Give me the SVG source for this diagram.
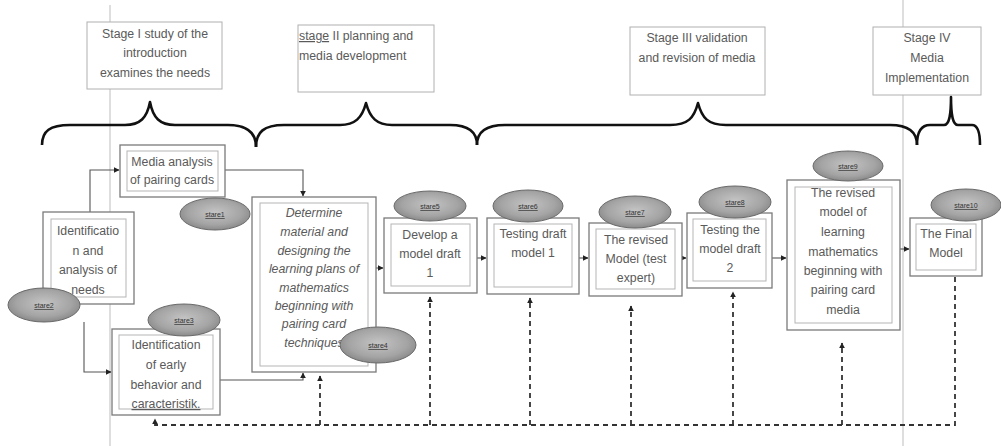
<svg xmlns="http://www.w3.org/2000/svg" width="1001" height="446" viewBox="0 0 1001 446">
<style>
.bg{fill:#fff}
.guide{stroke:#c8c8c8;stroke-width:1.2;fill:none}
.stage{fill:#fff;stroke:#b0b0b0;stroke-width:1}
.brace{fill:none;stroke:#111;stroke-width:2.6;stroke-linejoin:round}
.outer{fill:#fff;stroke:#7a7a7a;stroke-width:1.3}
.inner{fill:none;stroke:#b5b5b5;stroke-width:1}
.t{font-family:"Liberation Sans",Arial,sans-serif;font-size:12.3px;fill:#5a5a5a;text-anchor:middle}
.ti{font-style:italic}
.tl{text-anchor:start}
.el{fill:url(#eg);stroke:#6a6a6a;stroke-width:1}
.et{font-family:"Liberation Sans",Arial,sans-serif;font-size:7px;fill:#333;text-anchor:middle;text-decoration:underline}
.c{fill:none;stroke:#555;stroke-width:1.1}
.d{fill:none;stroke:#333;stroke-width:1.8;stroke-dasharray:5,4}
</style>
<defs>
<radialGradient id="eg" cx="50%" cy="45%" r="55%">
<stop offset="0" stop-color="#c4c4c4"/>
<stop offset="0.7" stop-color="#a4a4a4"/>
<stop offset="1" stop-color="#8a8a8a"/>
</radialGradient>
<marker id="ah" viewBox="0 0 10 10" refX="9" refY="5" markerWidth="6" markerHeight="6" orient="auto" markerUnits="userSpaceOnUse">
<path d="M0,0 L10,5 L0,10 z" fill="#222"/>
</marker>
</defs>
<rect class="bg" x="0" y="0" width="1001" height="446"/>

<!-- guide lines -->
<line class="guide" x1="110" y1="5" x2="110" y2="446"/>
<line class="guide" x1="903" y1="0" x2="903" y2="446"/>

<!-- stage labels -->
<g id="stage1">
<rect class="stage" x="87" y="22" width="135" height="67"/>
<text class="t" x="155" y="38">Stage I study of the</text>
<text class="t" x="155" y="57">introduction</text>
<text class="t" x="155" y="77">examines the needs</text>
</g>
<g id="stage2">
<rect class="stage" x="298" y="25" width="136" height="67"/>
<text class="t tl" x="299" y="40"><tspan text-decoration="underline">stage</tspan> II planning and</text>
<text class="t tl" x="299" y="60">media development</text>
</g>
<g id="stage3">
<rect class="stage" x="630" y="27" width="135" height="68"/>
<text class="t" x="697" y="42">Stage III validation</text>
<text class="t" x="697" y="62">and revision of media</text>
</g>
<g id="stage4">
<rect class="stage" x="873" y="27" width="108" height="68"/>
<text class="t" x="927" y="42">Stage IV</text>
<text class="t" x="927" y="62">Media</text>
<text class="t" x="927" y="82">Implementation</text>
</g>

<!-- braces -->
<g id="braces">
<path class="brace" d="M42,145 C42,131 50,125 70,125 L125,125 C140,125 147,118 150,102 C153,118 160,125 175,125 L228,125 C247,125 256,132 256,147"/>
<path class="brace" d="M256,147 C256,132 264,125 284,125 L340,125 C355,125 362,118 366,103 C370,118 377,125 392,125 L450,125 C468,125 477,132 477,145"/>
<path class="brace" d="M477,145 C477,132 486,125 505,125 L670,125 C688,125 694,118 698,103 C702,118 708,125 726,125 L890,125 C908,125 917,132 917,145"/>
<path class="brace" d="M917,145 C917,133 920,125 930,125 L944,125 C949,125 951,116 951,97 C951,116 953,125 958,125 L972,125 C978,125 980,132 980,145"/>
</g>

<!-- connectors -->
<g id="connectors">
<polyline class="c" points="90,212 90,170 119,170" marker-end="url(#ah)"/>
<polyline class="c" points="84,322 84,372 111,372" marker-end="url(#ah)"/>
<polyline class="c" points="225,170 303,170 303,196" marker-end="url(#ah)"/>
<polyline class="c" points="220,380 303,380 303,373" marker-end="url(#ah)"/>
<line class="c" x1="376" y1="268" x2="383" y2="268" marker-end="url(#ah)"/>
<line class="c" x1="477" y1="258" x2="486" y2="258" marker-end="url(#ah)"/>
<line class="c" x1="579" y1="258" x2="588" y2="258" marker-end="url(#ah)"/>
<line class="c" x1="682" y1="258" x2="686" y2="258" marker-end="url(#ah)"/>
<line class="c" x1="772" y1="258" x2="786" y2="258" marker-end="url(#ah)"/>
<line class="c" x1="900" y1="249" x2="909" y2="249" marker-end="url(#ah)"/>
<!-- dashed feedback -->
<polyline class="d" points="955,277 955,425 155,425 155,419" marker-end="url(#ah)"/>
<line class="d" x1="320" y1="425" x2="320" y2="376" marker-end="url(#ah)"/>
<line class="d" x1="430" y1="425" x2="430" y2="297" marker-end="url(#ah)"/>
<line class="d" x1="530" y1="425" x2="530" y2="298" marker-end="url(#ah)"/>
<line class="d" x1="631" y1="425" x2="631" y2="306" marker-end="url(#ah)"/>
<line class="d" x1="733" y1="425" x2="733" y2="292" marker-end="url(#ah)"/>
<line class="d" x1="842" y1="425" x2="842" y2="343" marker-end="url(#ah)"/>
</g>

<!-- nodes -->
<g id="media-analysis">
<rect class="outer" x="120" y="145" width="105" height="52"/>
<rect class="inner" x="127" y="151" width="91" height="40"/>
<text class="t" x="172" y="166">Media analysis</text>
<text class="t" x="172" y="184">of pairing cards</text>
</g>
<g id="ident-needs">
<rect class="outer" x="43" y="212" width="91" height="92"/>
<rect class="inner" x="51" y="219" width="75" height="78"/>
<text class="t" x="88" y="235">Identificatio</text>
<text class="t" x="88" y="255">n and</text>
<text class="t" x="88" y="274">analysis of</text>
<text class="t" x="88" y="294">needs</text>
</g>
<g id="early-behavior">
<rect class="outer" x="112" y="329" width="108" height="86"/>
<rect class="inner" x="119" y="335" width="94" height="74"/>
<text class="t" x="166" y="349">Identification</text>
<text class="t" x="166" y="369">of early</text>
<text class="t" x="166" y="389">behavior and</text>
<text class="t" x="166" y="408" text-decoration="underline">caracteristik.</text>
</g>
<g id="determine">
<rect class="outer" x="252" y="197" width="124" height="175"/>
<rect class="inner" x="260" y="203" width="108" height="163"/>
<text class="t ti" x="314" y="217">Determine</text>
<text class="t ti" x="314" y="236">material and</text>
<text class="t ti" x="314" y="255">designing the</text>
<text class="t ti" x="314" y="273">learning plans of</text>
<text class="t ti" x="314" y="292">mathematics</text>
<text class="t ti" x="314" y="310">beginning with</text>
<text class="t ti" x="314" y="328">pairing card</text>
<text class="t ti" x="314" y="347">techniques</text>
</g>
<g id="develop">
<rect class="outer" x="384" y="218" width="93" height="75"/>
<rect class="inner" x="391" y="224" width="79" height="62"/>
<text class="t" x="430" y="239">Develop a</text>
<text class="t" x="430" y="258">model draft</text>
<text class="t" x="430" y="277">1</text>
</g>
<g id="testing1">
<rect class="outer" x="487" y="218" width="92" height="76"/>
<rect class="inner" x="494" y="224" width="78" height="63"/>
<text class="t" x="533" y="238">Testing draft</text>
<text class="t" x="533" y="257">model 1</text>
</g>
<g id="revised-expert">
<rect class="outer" x="589" y="223" width="93" height="73"/>
<rect class="inner" x="596" y="229" width="79" height="60"/>
<text class="t" x="636" y="244">The revised</text>
<text class="t" x="636" y="263">Model (test</text>
<text class="t" x="636" y="282">expert)</text>
</g>
<g id="testing2">
<rect class="outer" x="687" y="213" width="85" height="75"/>
<rect class="inner" x="693" y="219" width="73" height="62"/>
<text class="t" x="730" y="234">Testing the</text>
<text class="t" x="730" y="253">model draft</text>
<text class="t" x="730" y="272">2</text>
</g>
<g id="revised-model">
<rect class="outer" x="787" y="180" width="113" height="150"/>
<rect class="inner" x="795" y="187" width="97" height="136"/>
<text class="t" x="843" y="197">The revised</text>
<text class="t" x="843" y="216">model of</text>
<text class="t" x="843" y="236">learning</text>
<text class="t" x="843" y="256">mathematics</text>
<text class="t" x="843" y="275">beginning with</text>
<text class="t" x="843" y="294">pairing card</text>
<text class="t" x="843" y="314">media</text>
</g>
<g id="final-model">
<rect class="outer" x="910" y="218" width="72" height="58"/>
<rect class="inner" x="916" y="224" width="60" height="46"/>
<text class="t" x="946" y="238">The Final</text>
<text class="t" x="946" y="257">Model</text>
</g>

<!-- ellipse tags -->
<g id="tag1"><ellipse class="el" cx="215" cy="214" rx="35" ry="16"/><text class="et" x="215" y="217">stare1</text></g>
<g id="tag2"><ellipse class="el" cx="44" cy="305" rx="36" ry="17"/><text class="et" x="44" y="308">stare2</text></g>
<g id="tag3"><ellipse class="el" cx="184" cy="320" rx="36" ry="16"/><text class="et" x="184" y="323">stare3</text></g>
<g id="tag4"><ellipse class="el" cx="378" cy="345" rx="38" ry="18"/><text class="et" x="378" y="348">stare4</text></g>
<g id="tag5"><ellipse class="el" cx="430" cy="206" rx="36" ry="15"/><text class="et" x="430" y="209">stare5</text></g>
<g id="tag6"><ellipse class="el" cx="528" cy="206" rx="35" ry="16"/><text class="et" x="528" y="209">stare6</text></g>
<g id="tag7"><ellipse class="el" cx="635" cy="212" rx="36" ry="16"/><text class="et" x="635" y="215">stare7</text></g>
<g id="tag8"><ellipse class="el" cx="735" cy="202" rx="36" ry="16"/><text class="et" x="735" y="205">stare8</text></g>
<g id="tag9"><ellipse class="el" cx="848" cy="166" rx="35" ry="15"/><text class="et" x="848" y="169">stare9</text></g>
<g id="tag10"><ellipse class="el" cx="966" cy="205" rx="35" ry="16"/><text class="et" x="966" y="208">stare10</text></g>
</svg>
